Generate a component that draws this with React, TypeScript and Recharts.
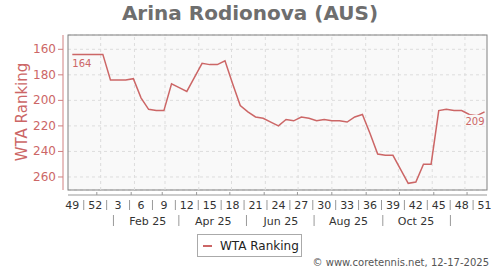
import React from 'react';
import {
  LineChart, Line, XAxis, YAxis, CartesianGrid, ReferenceLine, Legend, LabelList, Customized,
} from 'recharts';

// ---- data ----
const weekNumbers = [49, 50, 51, 52, 1, 2, 3, 4, 5, 6, 7, 8, 9, 10, 11, 12, 13, 14, 15, 16, 17, 18, 19, 20, 21, 22, 23, 24, 25, 26, 27, 28, 29, 30, 31, 32, 33, 34, 35, 36, 37, 38, 39, 40, 41, 42, 43, 44, 45, 46, 47, 48, 49, 50, 51];
const wtaRanking = [164, 164, 164, 164, 164, 184, 184, 184, 183, 198, 207, 208, 208, 187, 190, 193, 182, 171, 172, 172, 169, 187, 204, 209, 213, 214, 217, 220, 215, 216, 213, 214, 216, 215, 216, 216, 217, 213, 211, 226, 242, 243, 243, 254, 265, 264, 250, 250, 208, 207, 208, 208, 211, 212, 209];
const yTicks = [160, 180, 200, 220, 240, 260];
const monthNames = ['Jan', 'Feb', 'Mar', 'Apr', 'May', 'Jun', 'Jul', 'Aug', 'Sep', 'Oct', 'Nov', 'Dec'];
const monthLengths = [31, 28, 31, 30, 31, 30, 31, 31, 30, 31, 30, 31];
const firstJanOffsetDays = 26; // Jan 1 2025 is 26 days after the first ranking point
const yearSuffix = '25';

const data = weekNumbers.map((wk, i) => ({ i, wk, rank: wtaRanking[i] }));

// month start and mid-month positions (in weeks from the first point)
const monthStarts: number[] = [];
const midMonths: { pos: number; label: string }[] = [];
{
  let d = firstJanOffsetDays;
  monthLengths.forEach((len, m) => {
    monthStarts.push(d / 7);
    if (m < 11) {
      midMonths.push({ pos: (d + 15) / 7, label: m % 2 === 1 ? `${monthNames[m]} ${yearSuffix}` : '' });
    }
    d += len;
  });
}

// ---- layout / style ----
const W = 500;
const H = 270;
const PL = 68, PT = 35, PR = 487, PB = 190;
const Y_AXIS_W = 60;
const LEGEND_H = 23;
const XA_H = 16;
const FONT = 'DejaVu Sans, Verdana, sans-serif';
const RED = '#cc6666';
const AXIS_RED = '#d08080';
const X_DOMAIN: [number, number] = [-0.563, 54.32];
const Y_DOMAIN: [number, number] = [148.8, 270.2];

const weekTicks: number[] = [];
for (let v = 0; v <= 54; v += 1.5) weekTicks.push(v);
const monthAxisTicks = [...monthStarts, ...midMonths.map((m) => m.pos)].sort((a, b) => a - b);

const YTick = (props: any) => {
  const { y, payload } = props;
  const ax = PL - 5;
  return (
    <g>
      <line x1={ax - 5} x2={ax} y1={y} y2={y} stroke={AXIS_RED} strokeWidth={1} />
      <text x={ax - 7} y={y} textAnchor="end" dominantBaseline="central" fontSize={12} fill={RED} fontFamily={FONT}>
        {payload.value}
      </text>
    </g>
  );
};

const WeekTick = (props: any) => {
  const { x, payload } = props;
  const v = payload.value as number;
  if (Math.abs(v / 3 - Math.round(v / 3)) < 1e-6) {
    return (
      <text x={x} y={209} textAnchor="middle" fontSize={11} fill="#333" fontFamily={FONT}>
        {weekNumbers[Math.round(v)]}
      </text>
    );
  }
  return <line x1={x} x2={x} y1={200} y2={210} stroke="#999" strokeWidth={1} />;
};

const MonthTick = (props: any) => {
  const { x, payload } = props;
  const v = payload.value as number;
  const mid = midMonths.find((m) => Math.abs(m.pos - v) < 1e-6);
  if (!mid) {
    return <line x1={x} x2={x} y1={192} y2={195} stroke="#999" strokeWidth={1} />;
  }
  if (mid.label) {
    return (
      <text x={x} y={225} textAnchor="middle" fontSize={11} fill="#333" fontFamily={FONT}>
        {mid.label}
      </text>
    );
  }
  return <line x1={x} x2={x} y1={215} y2={226} stroke="#999" strokeWidth={1} />;
};

const EndLabel = (props: any) => {
  const { x, y, value, index } = props;
  const last = wtaRanking.length - 1;
  if (index !== 0 && index !== last) return null;
  const isLast = index === last;
  const tx = isLast ? x : x;
  const w = 18;
  return (
    <g>
      {isLast && <rect x={tx - w - 1} y={y + 3} width={w + 2} height={11} fill="#f9f9f9" />}
      <text x={tx} y={y + 13} textAnchor={isLast ? 'end' : 'start'} fontSize={10} fill={RED} fontFamily={FONT}>
        {value}
      </text>
    </g>
  );
};

const Decorations = () => (
  <g>
    <rect x={PL} y={PT} width={PR - PL} height={PB - PT} fill="none" stroke="#808080" strokeWidth={1} />
    <line x1={PL - 5} x2={PL - 5} y1={PT} y2={PB} stroke={AXIS_RED} strokeWidth={1} />
    <line x1={PL} x2={PR} y1={PB + 5} y2={PB + 5} stroke="#999" strokeWidth={1} />
    <text x={250} y={20} textAnchor="middle" fontSize={20} fontWeight="bold" fill="#6e6e6e" fontFamily={FONT}>
      Arina Rodionova (AUS)
    </text>
    <text
      x={21.5}
      y={112}
      transform="rotate(-90 21.5 112)"
      textAnchor="middle"
      dominantBaseline="central"
      fontSize={15}
      fill={RED}
      fontFamily={FONT}
    >
      WTA Ranking
    </text>
    <text x={489} y={266} textAnchor="end" fontSize={10} fill="#555" fontFamily={FONT}>
      © www.coretennis.net, 12-17-2025
    </text>
  </g>
);

const LegendContent = () => (
  <div
    style={{
      width: 105,
      height: LEGEND_H,
      boxSizing: 'border-box',
      border: '1px solid #aaa',
      background: '#fff',
      display: 'flex',
      alignItems: 'center',
      fontFamily: FONT,
      fontSize: 12,
      color: '#222',
    }}
  >
    <svg width={22} height={10} style={{ display: 'block' }}>
      <line x1={5} x2={14} y1={5} y2={5} stroke={RED} strokeWidth={2} />
    </svg>
    <span>WTA Ranking</span>
  </div>
);

export default function App() {
  return (
    <div style={{ position: 'absolute', left: 0, top: 0, width: W, height: H, background: '#fff' }}>
      <LineChart
        width={W}
        height={H}
        data={data}
        margin={{ top: PT, right: W - PR, left: PL - Y_AXIS_W, bottom: H - PB - 2 * XA_H - LEGEND_H }}
      >
        <CartesianGrid vertical={false} stroke="#dddddd" strokeDasharray="3 3" fill="#f9f9f9" />
        {monthStarts.map((m) => (
          <ReferenceLine key={m} x={m} stroke="#dddddd" strokeDasharray="3 3" ifOverflow="hidden" />
        ))}
        <XAxis
          dataKey="i"
          type="number"
          domain={X_DOMAIN}
          allowDataOverflow
          ticks={weekTicks}
          interval={0}
          tick={<WeekTick />}
          tickLine={false}
          axisLine={false}
          height={XA_H}
        />
        <XAxis
          xAxisId="m"
          type="number"
          domain={X_DOMAIN}
          allowDataOverflow
          ticks={monthAxisTicks}
          interval={0}
          tick={<MonthTick />}
          tickLine={false}
          axisLine={false}
          height={XA_H}
        />
        <YAxis
          type="number"
          domain={Y_DOMAIN}
          reversed
          allowDataOverflow
          ticks={yTicks}
          interval={0}
          width={Y_AXIS_W}
          tick={<YTick />}
          tickLine={false}
          axisLine={false}
        />
        <Line
          type="linear"
          dataKey="rank"
          name="WTA Ranking"
          stroke={RED}
          strokeWidth={1.5}
          dot={false}
          isAnimationActive={false}
        >
          <LabelList dataKey="rank" content={<EndLabel />} />
        </Line>
        <Customized component={Decorations} />
        <Legend
          verticalAlign="bottom"
          content={<LegendContent />}
          wrapperStyle={{ position: 'absolute', left: 197, top: 234, width: 105, height: LEGEND_H }}
        />
      </LineChart>
    </div>
  );
}
